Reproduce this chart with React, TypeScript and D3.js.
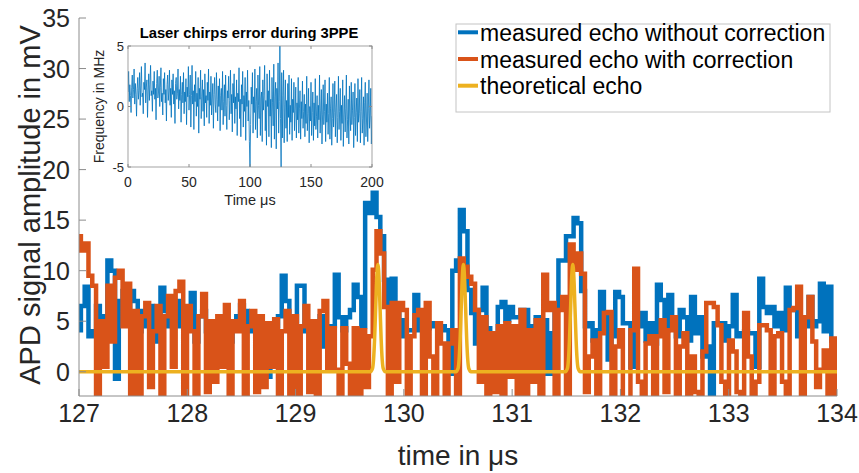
import React from 'react';
import * as d3 from 'd3';

const X_TICKS = [127, 128, 129, 130, 131, 132, 133, 134];
const Y_TICKS = [0, 5, 10, 15, 20, 25, 30, 35];
const X_DOMAIN: [number, number] = [127, 134];
const Y_DOMAIN: [number, number] = [-2.4, 35];
const SAMPLE_START = 127;
const SAMPLE_STEP = 0.035;

const BLUE = [
  4.1, 6.5, 8.4, 3.5, 4.0, 6.5, 2.0, 5.5, 11.0, 10.0,
  -0.7, 7.0, 8.0, 5.0, 8.0, 7.0, 4.0, 6.0, 4.5, 6.5,
  3.0, 5.0, 8.3, 6.0, 4.5, 5.0, 7.0, 4.5, 6.0, 5.5,
  7.8, 3.0, 5.5, 6.0, 4.0, 5.0, 3.5, 4.8, 5.5, 4.0,
  3.0, 5.0, 5.5, 6.6, 6.0, 4.0, 5.5, 2.5, 3.5, 4.0,
  -0.5, 3.0, 4.5, 5.5, 9.5, 7.0, 4.0, 5.0, 8.5, 8.5,
  4.0, 5.0, 3.0, 4.5, 5.5, 2.5, 4.5, 4.5, 9.6, 5.4,
  4.1, 5.4, 6.1, 8.6, 7.4, 4.5, 16.7, 15.7, 17.7, 15.3,
  13.4, 9.1, 6.8, 9.2, 5.8, 5.1, 3.5, 4.1, 4.1, 7.6,
  4.1, 5.0, 4.3, 4.8, 4.5, 4.5, 4.5, 4.1, -0.2, 10.0,
  11.0, 16.0, 13.9, 8.1, 5.8, 2.8, 6.1, 8.3, 4.3, -0.5,
  2.5, 6.4, 6.9, 5.1, 6.4, 5.4, 5.4, 6.1, 6.1, 4.5,
  2.5, 5.4, 5.1, 5.1, -0.2, 3.8, 6.1, 11.0, 11.0, 13.4,
  13.4, 15.2, 14.7, 8.0, 4.5, 4.8, 3.1, 4.1, 7.9, 5.4,
  1.2, 3.5, 7.9, 7.4, 4.8, 4.8, 0.5, 5.0, 4.5, 5.8,
  3.1, 4.8, 2.8, 8.6, 7.1, 4.1, 7.6, 4.5, 3.5, 6.1,
  5.4, 3.1, 7.4, 3.8, 5.4, 1.5, 2.5, -3.0, 4.8, 4.8,
  4.8, 3.1, 4.5, 7.6, 3.5, 3.8, 4.0, 3.8, 3.8, 0.5,
  9.2, 6.4, 5.8, 6.4, 4.5, 5.8, 4.1, 8.3, 6.1, 6.1,
  3.5, 5.4, 4.5, 7.4, 4.5, 5.0, 8.7, 4.0, 8.4, 3.1,
  0.5,
];

const ORANGE = [
  13.4, 12.0, 12.7, 9.5, 8.5, -3, 5.0, 0.5, 8.5, 3.0,
  9.3, 10.0, 4.5, 8.7, -3, 6.0, -3, 5.5, 6.8, -1.5,
  4.0, 6.5, -3, 5.5, 7.5, 0.5, 8.0, 8.9, -3, 6.5,
  4.0, -3, 5.5, 7.7, -2, 5.0, -1.0, 5.5, 0.5, 6.6,
  -3, 5.0, 4.0, 7.0, -3, 4.5, 6.0, -2, 5.5, -1.5,
  4.8, 0.5, 5.2, -3, 4.0, 6.0, -3, 5.5, -3, 4.5,
  6.5, -2, 5.0, -3, 6.0, 7.0, 0.3, 4.3, 0.2, -3,
  4.3, 0.8, -3, 4.3, -3, 4.1, -1.5, 3.5, 10.1, 13.9,
  11.7, 6.4, -3, 6.8, -1, 6.8, 6.1, -3, 3.5, 5.6,
  6.1, -3, 6.8, 1.5, -3, 4.8, 2.8, -3, 2.8, 4.1,
  -3, 11.2, 10.4, 9.4, 8.7, 6.1, -1, 5.4, -3, 3.8,
  -2, 4.5, -3, 4.8, -0.5, 4.5, -3, 6.1, -3, 4.1,
  -1, 5.1, -3, 9.6, 6.1, 6.8, -3, 6.1, 7.4, -3,
  12.6, 10.1, 11.7, 9.7, -2, 1.5, 3.1, -3, 3.8, 5.8,
  5.9, -3, 2.5, 4.1, -3, -3, 4.1, 10.2, -1, -3,
  2.8, 3.5, -3, 3.5, 5.1, -2, 4.1, 5.4, -3, 2.5,
  3.8, -3, 1.5, -2, -3, 2.0, 6.8, 6.8, 6.4, 4.6,
  -1, -3, 3.1, 2.0, -2, -3, 5.8, 1.5, -3, -1.0,
  4.6, 4.6, 4.1, -3, 3.5, 3.8, -1, -3, 6.1, 6.3,
  8.4, -3, 5.4, 7.4, 3.0, -1.5, 0.2, 2.1, -3, 3.3,
  -3,
];

const ECHO_T = [
  127, 129.69, 129.71, 129.72, 129.73, 129.74, 129.75, 129.76, 129.77, 129.78, 129.79, 129.8, 129.81, 129.83,
  130.48, 130.5, 130.51, 130.52, 130.53, 130.54, 130.55, 130.56, 130.57, 130.58, 130.59, 130.6, 130.62,
  131.49, 131.51, 131.52, 131.53, 131.54, 131.55, 131.56, 131.57, 131.58, 131.59, 131.6, 131.61, 131.63,
  134,
];
const ECHO_V = [
  0, 0, 0.3, 1.2, 3.3, 6.4, 9.4, 10.6, 9.4, 6.4, 3.3, 1.2, 0.3, 0,
  0, 0.3, 1.2, 3.3, 6.4, 9.4, 10.6, 9.4, 6.4, 3.3, 1.2, 0.3, 0,
  0, 0.3, 1.2, 3.3, 6.4, 9.4, 10.6, 9.4, 6.4, 3.3, 1.2, 0.3, 0,
  0,
];

const INSET_X_TICKS = [0, 50, 100, 150, 200];
const INSET_Y_TICKS = [-5, 0, 5];
const INSET_START = 0;
const INSET_STEP = 0.5;
const INSET_VALUES = [
  1.2, 2.9, 0.4, 1.8, 0.9, -0.5, 1.6, 2.6, 0.7, 1.4, 3.1, 0.2, 1.9, 1.0, -0.8, 1.5, 2.4, 0.6, 1.3, 2.8,
  0.1, 1.7, 3.3, 0.8, 1.1, -0.6, 2.0, 1.4, 3.6, 0.3, 1.6, 2.2, -0.9, 1.2, 2.7, 0.5, 1.8, 3.4, 0.9, 1.3,
  -0.4, 2.1, 1.0, 2.9, 0.6, 1.5, -1.1, 1.9, 3.0, 0.7, 1.2, 2.5, 0.0, 1.6, 3.2, 0.4, 1.1, -0.7, 2.3, 1.0,
  2.8, 0.3, 1.4, -1.2, 1.8, 2.6, 0.5, 1.2, 3.0, 0.1, 1.5, -0.9, 2.2, 1.0, 2.7, 0.2, 1.3, -1.4, 1.9, 2.4,
  0.6, 1.1, 3.1, -0.2, 1.4, 0.5, 2.5, -1.3, 1.0, 2.0, 0.3, 2.8, -0.6, 1.2, 0.4, 2.3, -1.5, 1.6, 0.8, 3.3,
  -0.3, 1.0, 2.6, -1.7, 0.9, 3.4, 0.2, 1.3, -1.9, 1.8, 0.4, 2.9, -0.8, 1.1, 0.0, 2.4, -2.2, 1.5, 0.6, 3.0,
  -1.0, 0.8, 2.2, -0.4, 1.4, -1.6, 2.7, 0.3, 0.9, -0.9, 2.0, 0.5, 3.1, -1.4, 1.2, 0.1, 2.5, -0.7, 0.7, 1.9,
  -1.8, 1.0, 2.4, 0.2, -0.5, 2.8, 0.6, -1.2, 1.7, 0.0, 2.3, -2.0, 0.9, 1.5, -0.3, 2.9, -1.5, 0.4, 1.8, -0.8,
  2.6, 0.1, -1.9, 1.3, 0.7, 2.5, -1.1, 0.5, 3.0, -0.6, 1.0, -2.1, 1.9, 0.3, 2.7, -1.4, 0.8, -0.2, 2.2, -2.4,
  1.1, 0.4, 3.2, -1.0, 0.6, -2.5, 1.8, 0.2, 2.9, -1.7, 0.9, -0.4, 2.4, -2.8, 1.2, 0.0, 3.0, -1.2, 0.5, -2.9,
  -5.0, -1.5, 1.6, 0.2, 2.8, -2.2, 0.8, -0.5, 3.1, -1.9, 0.4, 1.5, -2.6, 2.6, 0.1, -1.0, 3.3, -2.4, 0.7, 1.2,
  -2.9, 2.2, -0.3, 0.9, 3.4, -2.0, 0.5, -3.2, 2.7, 0.0, 1.3, -2.5, 3.0, -0.8, 0.6, -3.4, 2.4, 0.3, -1.6, 3.5,
  -2.7, 0.8, 2.0, -3.5, 1.5, -0.2, 3.6, -2.2, 0.4, 5.0, -1.0, -5.0, 2.8, -2.6, 0.9, 3.0, -3.0, 0.2, 2.2, -1.8,
  0.5, -2.9, 1.9, -0.9, 2.6, -2.3, 0.1, -1.3, 2.3, -2.8, 0.6, -0.5, 2.0, -2.0, -0.3, 1.6, -2.6, 0.3, -1.1, 2.4,
  -2.2, -0.2, 1.3, -2.7, 0.4, -1.0, 2.1, -1.8, -0.4, 1.0, -2.5, 0.2, -1.4, 2.5, -2.0, -0.6, 1.5, -3.0, 0.0, -1.2,
  2.0, -2.4, -0.5, 1.2, -2.8, 0.3, -1.6, 2.3, -1.9, -0.8, 0.9, -2.6, 0.1, -1.1, 2.6, -2.2, -0.3, 1.4, -3.1, -0.7,
  1.8, -1.5, -0.4, 2.2, -2.9, 0.2, -1.3, 1.1, -2.3, -0.6, 2.4, -2.7, -0.2, 0.8, -3.2, -1.0, 1.9, -1.7, -0.5, 2.1,
  -2.5, -0.1, 1.0, -3.0, -0.9, 2.5, -1.9, -0.4, 1.5, -2.8, 0.1, -1.4, 2.2, -3.3, -0.7, 0.9, -2.1, -0.2, 2.6, -2.6,
  -1.1, 0.6, -3.1, 1.7, -0.8, -2.0, 2.0, -1.5, -0.3, 1.2, -3.4, -0.9, 1.9, -2.4, -0.5, 0.7, -2.9, 2.3, -1.3, -0.6,
  1.4, -3.0, -0.4, 2.4, -2.2, -1.0, 0.8, -3.2, 0.3, 2.0, -2.5, -1.2, 1.1, -2.9, -0.2, 2.2, -1.8, -0.7, 1.5, -3.1,
  -0.8,
];

const LEGEND_LABELS = [
  'measured echo without correction',
  'measured echo with correction',
  'theoretical echo',
];
const COLORS = ['#0072BD', '#D95319', '#EDB120'];

const FONT = '"Liberation Sans", Arial, Helvetica, sans-serif';
const TEXT = '#262626';
const AXIS = '#8c8c8c';

export default function App() {
  const W = 859;
  const H = 473;
  const P = { l: 79, r: 837, t: 18, b: 396 };
  const x = d3.scaleLinear().domain(X_DOMAIN).range([P.l, P.r]);
  const y = d3.scaleLinear().domain(Y_DOMAIN).range([P.b, P.t]);

  const stepLine = d3
    .line<number>()
    .x((_, i) => x(SAMPLE_START + i * SAMPLE_STEP))
    .y((d) => y(d))
    .curve(d3.curveStep);

  const echoLine = d3
    .line<number>()
    .x((_, i) => x(ECHO_T[i]))
    .y((d) => y(d))
    .curve(d3.curveMonotoneX);

  const I = { l: 128, r: 372, t: 46, b: 167 };
  const ix = d3.scaleLinear().domain([0, 200]).range([I.l, I.r]);
  const iy = d3.scaleLinear().domain([-5, 5]).range([I.b, I.t]);
  const insetLine = d3
    .line<number>()
    .x((_, i) => ix(INSET_START + i * INSET_STEP))
    .y((d) => iy(d));

  const legend = { x0: 456, x1: 830, y0: 24, y1: 112, rows: [32.3, 59, 85.7] };

  return (
    <svg
      width={W}
      height={H}
      style={{ position: 'absolute', left: 0, top: 0, background: '#fff' }}
      fontFamily={FONT}
    >
      <defs>
        <clipPath id="plotClip">
          <rect x={P.l} y={P.t} width={P.r - P.l} height={P.b - P.t} />
        </clipPath>
        <clipPath id="insetClip">
          <rect x={I.l} y={I.t} width={I.r - I.l} height={I.b - I.t} />
        </clipPath>
      </defs>
      <rect x={0} y={0} width={W} height={H} fill="#fff" />

      <g clipPath="url(#plotClip)">
        <path d={stepLine(BLUE) || ''} fill="none" stroke={COLORS[0]} strokeWidth={4.5} strokeLinejoin="miter" />
        <path d={stepLine(ORANGE) || ''} fill="none" stroke={COLORS[1]} strokeWidth={4.5} strokeLinejoin="miter" />
        <path d={echoLine(ECHO_V) || ''} fill="none" stroke={COLORS[2]} strokeWidth={3.5} />
      </g>

      <line x1={P.l} x2={P.l} y1={P.t} y2={P.b} stroke={AXIS} strokeWidth={1} />
      <line x1={P.l} x2={P.r} y1={P.b} y2={P.b} stroke={AXIS} strokeWidth={1} />
      {Y_TICKS.map((t) => (
        <g key={'y' + t}>
          <line x1={P.l} x2={P.l + 7} y1={y(t)} y2={y(t)} stroke={AXIS} />
          <text x={P.l - 9} y={y(t)} dy="0.36em" textAnchor="end" fontSize={25} fill={TEXT}>
            {t}
          </text>
        </g>
      ))}
      {X_TICKS.map((t) => (
        <g key={'x' + t}>
          <line x1={x(t)} x2={x(t)} y1={P.b} y2={P.b - 7} stroke={AXIS} />
          <text x={x(t)} y={P.b + 26} textAnchor="middle" fontSize={25} fill={TEXT}>
            {t}
          </text>
        </g>
      ))}
      <text x={(P.l + P.r) / 2} y={465} textAnchor="middle" fontSize={28} fill={TEXT}>
        time in μs
      </text>
      <text
        transform={`translate(40, ${(P.t + P.b) / 2 - 2}) rotate(-90)`}
        textAnchor="middle"
        fontSize={29}
        fill={TEXT}
      >
        APD signal amplitude in mV
      </text>

      <rect x={I.l} y={I.t} width={I.r - I.l} height={I.b - I.t} fill="#fff" />
      <g clipPath="url(#insetClip)">
        <path d={insetLine(INSET_VALUES) || ''} fill="none" stroke={COLORS[0]} strokeWidth={0.8} />
      </g>
      <rect x={I.l} y={I.t} width={I.r - I.l} height={I.b - I.t} fill="none" stroke={AXIS} strokeWidth={0.8} />
      {INSET_Y_TICKS.map((t) => (
        <g key={'iy' + t}>
          <line x1={I.l} x2={I.l + 3} y1={iy(t)} y2={iy(t)} stroke={AXIS} />
          <line x1={I.r} x2={I.r - 3} y1={iy(t)} y2={iy(t)} stroke={AXIS} />
          <text x={I.l - 4} y={iy(t)} dy="0.36em" textAnchor="end" fontSize={13} fill={TEXT}>
            {t}
          </text>
        </g>
      ))}
      {INSET_X_TICKS.map((t) => (
        <g key={'ix' + t}>
          <line x1={ix(t)} x2={ix(t)} y1={I.b} y2={I.b - 3} stroke={AXIS} />
          <line x1={ix(t)} x2={ix(t)} y1={I.t} y2={I.t + 3} stroke={AXIS} />
          <text x={ix(t)} y={I.b + 20} textAnchor="middle" fontSize={14} fill={TEXT}>
            {t}
          </text>
        </g>
      ))}
      <text x={(I.l + I.r) / 2} y={205} textAnchor="middle" fontSize={14.5} fill={TEXT}>
        Time μs
      </text>
      <text
        transform={`translate(104, ${(I.t + I.b) / 2}) rotate(-90)`}
        textAnchor="middle"
        fontSize={14}
        fill={TEXT}
      >
        Frequency in MHz
      </text>
      <text x={249} y={38} textAnchor="middle" fontSize={14.8} fontWeight="bold" fill="#000">
        Laser chirps error during 3PPE
      </text>

      <rect
        x={legend.x0}
        y={legend.y0}
        width={legend.x1 - legend.x0}
        height={legend.y1 - legend.y0}
        fill="#fff"
        stroke="#c4c4c4"
        strokeWidth={1}
      />
      {LEGEND_LABELS.map((lab, k) => (
        <g key={lab}>
          <line x1={458} x2={478} y1={legend.rows[k]} y2={legend.rows[k]} stroke={COLORS[k]} strokeWidth={4} />
          <text x={480} y={legend.rows[k] + 8.5} fontSize={23} fill="#000">
            {lab}
          </text>
        </g>
      ))}
    </svg>
  );
}
